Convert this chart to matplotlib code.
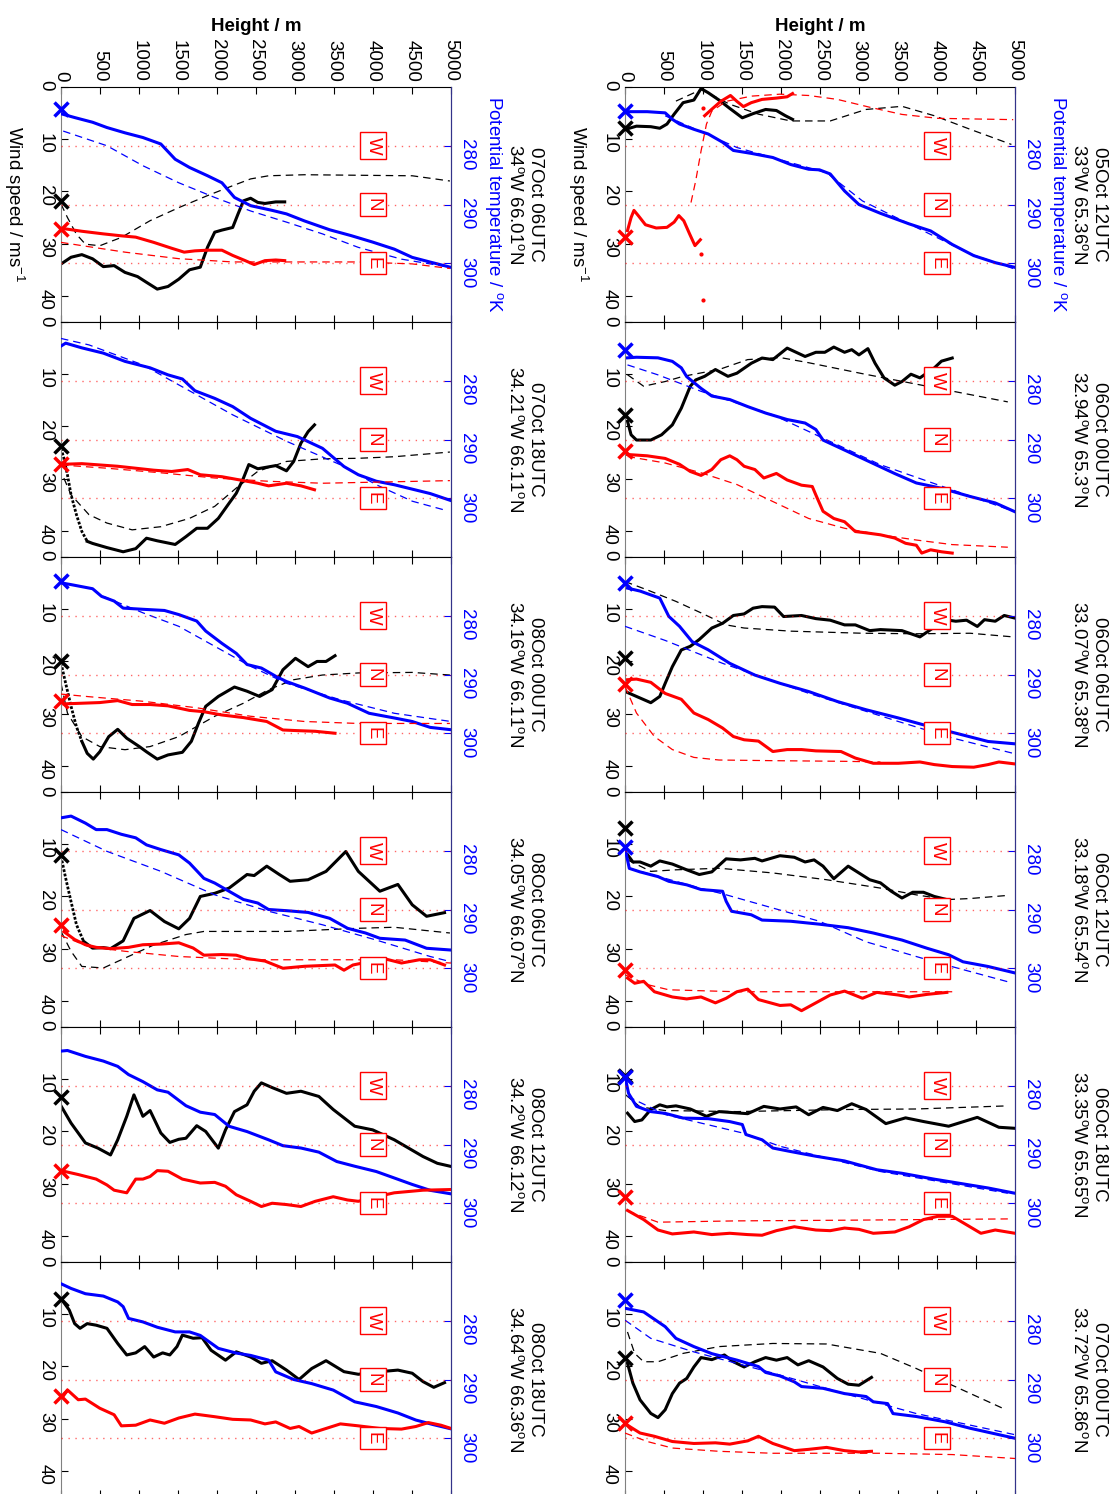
"""
Dropsonde-style profiles: wind speed, potential temperature and wind direction
vs height, 12 soundings, drawn rotated (height across, values down the page).
"""

import numpy as np
import matplotlib
matplotlib.use("Agg")
import matplotlib.pyplot as plt

plt.rcParams['font.family'] = ['Liberation Sans', 'DejaVu Sans']
plt.rcParams['mathtext.fontset'] = 'custom'
plt.rcParams['mathtext.rm'] = 'Liberation Sans'
plt.rcParams['mathtext.it'] = 'Liberation Sans:italic'
plt.rcParams['font.size'] = 13.5

nan = np.nan
DEG = r'$^\mathrm{o}$'

# ---------------------------------------------------------------- data
# surface values: wind speed [m/s], theta [K] (None = no mark), direction [deg]
# *_h = height [m]; ws = wind speed, th = theta, wd = direction (180..540)
# trailing m = model (dashed)

# 05Oct 12UTC
sfc_0512 = [7.9, 274.1, 410]
ws_0512_h = [9, 147, 331, 446, 538, 630, 745, 883, 975, 1067, 1205, 1343, 1504, 1642, 1803, 1941, 2056, 2148]
ws_0512 = [8.1, 7.5, 7.6, 7.9, 7.1, 5.2, 3.0, 2.5, 0.3, 1.1, 2.5, 4.1, 5.9, 5.1, 4.3, 4.5, 5.5, 6.2]
wsm_0512_h = [653, 975, 1343, 1711, 2125, 2631, 3091, 3551, 3965, 4425, 4954]
wsm_0512 = [2.7, 0.5, 3.3, 5.2, 6.5, 6.5, 4.3, 3.7, 5.5, 8.1, 11.0]
th_0512_h = [9, 285, 515, 607, 699, 883, 1067, 1251, 1389, 1619, 1895, 2125, 2355, 2493, 2631, 2815, 2999, 3275, 3643, 3919, 4195, 4471, 4747, 5000]
th_0512 = [274.2, 274.2, 274.4, 275.5, 276.3, 277.2, 278.0, 279.4, 280.8, 281.3, 282.0, 283.2, 284.0, 284.1, 284.8, 287.7, 290.0, 291.5, 293.3, 294.5, 296.8, 298.7, 299.9, 300.7]
thm_0512_h = [515, 1435, 2585, 3045, 3735, 4425, 5000]
thm_0512 = [274.9, 280.3, 284.6, 289.4, 293.9, 298.4, 301.0]
wd_0512_h = [32, 78, 115, 170, 262, 400, 538, 630, 690, 754, 828, 897, 966, nan, 1021, 1113, 1228, 1352, 1435, 1518, 1619, 1757, 1941, 2079, 2148]
wd_0512 = [400, 380, 369, 377, 391, 396, 395, 387, 377, 385, 405, 423, 414, nan, 224, 214, 202, 193, 202, 210, 204, 199, 197, 195, 190]
wdm_0512_h = [846, 906, 975, 1044, 1113, 1297, 1619, 1987, 2355, 2723, 3137, 3551, 4011, 4977]
wdm_0512 = [357, 324, 278, 237, 217, 202, 194, 191, 193, 199, 211, 222, 228, 230]
wddot_0512_h = [980, 998, 998]
wddot_0512 = [436, 506, 212]

# 06Oct 00UTC
sfc_0600 = [17.8, 274.7, 378]
ws_0600_h = [32, 78, 147, 331, 469, 607, 722, 837, 906, 1021, 1159, 1320, 1435, 1619, 1757, 1895, 2079, 2309, 2447, 2562, 2677, 2815, 2907, 2999, 3114, 3206, 3321, 3459, 3551, 3666, 3781, 3965, 4057, 4195]
ws_0600 = [19.0, 21.6, 22.6, 22.6, 21.6, 19.7, 16.5, 12.3, 11.1, 10.4, 9.1, 10.4, 9.8, 7.9, 6.9, 7.2, 5.0, 6.6, 5.8, 5.8, 4.8, 5.8, 5.3, 6.3, 5.1, 7.9, 10.7, 12.1, 11.4, 10.0, 10.7, 8.8, 7.5, 6.9]
wsm_0600_h = [32, 239, 515, 745, 1205, 1573, 1987, 2355, 3045, 3735, 4425, 4908]
wsm_0600 = [10.1, 12.3, 11.4, 10.4, 9.1, 7.2, 6.8, 7.8, 9.9, 11.9, 13.9, 15.3]
th_0600_h = [32, 147, 423, 607, 722, 791, 975, 1113, 1343, 1573, 1803, 2079, 2309, 2447, 2539, 2815, 3137, 3459, 3735, 4057, 4425, 4747, 5000]
th_0600 = [276.1, 276.0, 276.1, 276.7, 277.8, 279.3, 281.3, 282.6, 283.2, 284.4, 285.5, 286.6, 287.2, 288.3, 290.1, 291.8, 293.8, 295.8, 297.4, 298.3, 299.7, 300.8, 302.3]
thm_0600_h = [32, 423, 975, 1895, 2447, 3275, 5000]
thm_0600 = [277.3, 279.0, 281.8, 285.8, 289.2, 294.3, 302.3]
wd_0600_h = [32, 285, 515, 699, 837, 975, 1113, 1228, 1343, 1435, 1527, 1665, 1780, 1941, 2079, 2263, 2401, 2447, 2539, 2677, 2815, 2953, 3091, 3275, 3459, 3597, 3735, 3804, 3919, 4057, 4195]
wd_0600 = [383, 385, 389, 398, 409, 415, 406, 391, 385, 391, 401, 406, 419, 412, 422, 430, 432, 445, 470, 481, 486, 501, 503, 506, 511, 519, 522, 534, 529, 532, 534]
wdm_0600_h = [32, 515, 975, 1435, 1895, 2355, 2815, 3275, 3735, 4195, 4908]
wdm_0600 = [386, 396, 411, 429, 455, 481, 496, 506, 514, 521, 525]

# 06Oct 06UTC
sfc_0606 = [19.4, 274.4, 374]
ws_0606_h = [9, 147, 331, 446, 515, 607, 722, 837, 952, 1113, 1251, 1389, 1527, 1642, 1757, 1918, 2033, 2263, 2447, 2631, 2815, 2953, 3137, 3275, 3551, 3781, 3919, 4103, 4241, 4379, 4517, 4609, 4747, 4862, 5000]
ws_0606 = [25.8, 26.7, 27.9, 26.7, 24.2, 21.0, 17.8, 17.1, 15.8, 13.6, 12.7, 11.2, 10.9, 9.8, 9.5, 9.6, 11.4, 11.2, 11.8, 12.1, 13.0, 13.0, 14.1, 13.9, 14.1, 15.3, 13.9, 12.0, 12.3, 12.1, 13.3, 12.0, 12.3, 11.2, 11.7]
wsm_0606_h = [0, 285, 653, 975, 1297, 1527, 2125, 3045, 3735, 4425, 4977]
wsm_0606 = [4.7, 6.3, 8.5, 10.7, 13.0, 13.6, 14.2, 14.6, 14.7, 14.6, 15.3]
th_0606_h = [32, 193, 446, 561, 699, 860, 1067, 1343, 1665, 1987, 2355, 2723, 3091, 3505, 3919, 4333, 4655, 5000]
th_0606 = [275.3, 275.8, 277.0, 280.1, 281.8, 284.4, 285.8, 288.1, 290.1, 291.5, 292.9, 294.6, 296.0, 297.4, 298.9, 300.3, 301.4, 301.8]
thm_0606_h = [0, 515, 1251, 2355, 3505, 4195, 5000]
thm_0606 = [281.8, 284.2, 288.1, 293.2, 298.0, 300.8, 303.5]
wd_0606_h = [32, 147, 331, 515, 722, 883, 1067, 1251, 1389, 1527, 1711, 1895, 2079, 2263, 2447, 2769, 2953, 3183, 3505, 3781, 3965, 4195, 4471, 4655, 4793, 5000]
wd_0606 = [368, 367, 372, 389, 398, 419, 429, 442, 455, 460, 462, 478, 475, 475, 477, 478, 488, 496, 496, 494, 498, 501, 502, 498, 494, 497]
wdm_0606_h = [0, 147, 377, 607, 883, 1205, 1895, 2815, 3275]
wdm_0606 = [378, 419, 455, 475, 487, 491, 492, 493, 494]

# 06Oct 12UTC
sfc_0612 = [6.8, 279.4, 453]
ws_0612_h = [32, 101, 193, 331, 446, 607, 791, 952, 1113, 1297, 1481, 1665, 1757, 1987, 2171, 2309, 2424, 2539, 2677, 2861, 2999, 3137, 3275, 3413, 3551, 3689, 3827, 3965, 4126]
ws_0612 = [12.0, 13.4, 13.4, 14.2, 13.2, 13.8, 14.9, 15.8, 15.3, 12.8, 13.0, 12.7, 13.2, 12.2, 12.5, 13.4, 13.0, 14.2, 16.6, 14.2, 15.5, 16.8, 17.4, 19.0, 20.3, 19.2, 19.2, 20.0, 20.6]
wsm_0612_h = [32, 331, 653, 1205, 1895, 2585, 3275, 3735, 4126, 4425, 4908]
wsm_0612 = [13.0, 15.2, 14.9, 14.6, 15.5, 16.8, 18.4, 19.7, 20.6, 20.4, 19.8]
th_0612_h = [9, 55, 193, 423, 561, 791, 975, 1251, 1297, 1366, 1619, 1757, 2125, 2493, 2861, 3183, 3551, 3873, 4149, 4333, 4655, 5000]
th_0612 = [280.1, 283.0, 283.6, 284.4, 285.2, 285.8, 286.6, 286.9, 288.6, 290.3, 290.9, 291.8, 292.0, 292.5, 293.1, 294.0, 295.2, 296.6, 297.7, 298.9, 299.7, 300.8]
thm_0612_h = [55, 975, 1297, 2493, 3091, 3965, 4908]
thm_0612 = [283.0, 286.4, 287.5, 292.0, 295.5, 298.9, 302.3]
wd_0612_h = [32, 124, 239, 377, 607, 791, 975, 1159, 1297, 1435, 1573, 1711, 1987, 2125, 2263, 2447, 2631, 2815, 3045, 3229, 3505, 3643, 3873, 4126]
wd_0612 = [465, 473, 470, 486, 494, 497, 494, 503, 496, 486, 482, 498, 507, 506, 515, 503, 491, 485, 496, 487, 491, 494, 490, 487]
wdm_0612_h = [0, 285, 561, 1435, 2815, 4195]
wdm_0612 = [460, 475, 483, 486, 486, 486]

# 06Oct 18UTC
sfc_0618 = [9.3, 278.5, 441]
ws_0618_h = [32, 124, 216, 331, 446, 538, 653, 837, 1044, 1205, 1389, 1573, 1780, 1987, 2194, 2355, 2539, 2723, 2907, 3091, 3344, 3597, 3827, 4149, 4517, 4793, 5000]
ws_0618 = [16.5, 18.1, 17.8, 15.8, 14.9, 15.3, 15.1, 15.7, 17.1, 16.2, 16.4, 16.6, 15.2, 15.7, 15.3, 16.8, 15.4, 16.0, 14.7, 15.8, 18.5, 17.4, 18.1, 19.0, 17.3, 19.2, 19.4]
wsm_0618_h = [9, 193, 515, 1435, 2815, 3735, 4908]
wsm_0618 = [13.0, 15.3, 16.0, 16.2, 15.8, 15.7, 15.1]
th_0618_h = [9, 46, 147, 331, 515, 745, 1067, 1343, 1504, 1550, 1757, 1895, 2125, 2447, 2815, 3229, 3551, 3965, 4333, 4655, 5000]
th_0618 = [279.0, 281.3, 283.5, 284.4, 284.7, 285.5, 285.6, 286.1, 286.6, 288.3, 289.2, 290.6, 291.2, 292.0, 292.8, 294.3, 294.9, 295.9, 296.7, 297.4, 298.3]
thm_0618_h = [32, 515, 1527, 1987, 3275, 4908]
thm_0618 = [281.8, 284.9, 288.1, 290.3, 294.6, 298.3]
wd_0618_h = [32, 239, 423, 607, 883, 1113, 1343, 1573, 1757, 1941, 2171, 2447, 2631, 2815, 2999, 3183, 3459, 3643, 3827, 4011, 4195, 4379, 4563, 4747, 5000]
wd_0618 = [461, 475, 491, 497, 494, 498, 496, 498, 499, 492, 486, 491, 492, 488, 490, 496, 494, 486, 475, 470, 470, 483, 496, 491, 496]
wdm_0618_h = [32, 423, 1435, 2815, 4908]
wdm_0618 = [462, 479, 477, 476, 474]

# 07Oct 00UTC
sfc_0700 = [18.3, 276.5, 426]
ws_0700_h = [32, 101, 193, 331, 423, 515, 607, 699, 791, 883, 975, 1113, 1274, 1389, 1527, 1665, 1803, 1941, 2079, 2217, 2355, 2539, 2723, 2861, 2999, 3160]
ws_0700 = [19.4, 23.2, 26.4, 29.0, 29.8, 28.3, 25.2, 23.2, 22.3, 20.1, 18.3, 18.7, 17.8, 19.1, 20.1, 19.1, 18.3, 18.8, 18.3, 19.7, 18.9, 20.1, 22.3, 23.4, 23.6, 22.1]
wsm_0700_h = [32, 124, 239, 423, 745, 1205, 1895, 2585, 3275, 3735, 4195, 4885]
wsm_0700 = [13.4, 17.5, 19.1, 19.1, 17.5, 16.2, 15.6, 15.7, 17.5, 20.4, 23.6, 28.3]
th_0700_h = [9, 239, 515, 653, 883, 1113, 1435, 1711, 1803, 1987, 2171, 2263, 2539, 2815, 3091, 3183, 3367, 3436, 3735, 4103, 4425, 5000]
th_0700 = [277.9, 278.5, 281.0, 283.0, 284.4, 285.6, 286.7, 287.8, 288.8, 289.4, 290.4, 291.2, 291.5, 292.4, 292.9, 293.8, 294.1, 295.8, 296.3, 297.2, 298.3, 300.0]
thm_0700_h = [0, 331, 883, 1895, 2815, 3735, 5000]
thm_0700 = [279.9, 283.0, 285.3, 288.9, 292.4, 295.8, 299.4]
wd_0700_h = [32, 193, 377, 607, 883, 1159, 1343, 1573, 1711, 1895, 2171, 2355, 2585, 2815, 2999, 3160]
wd_0700 = [430, 442, 447, 455, 458, 457, 459, 454, 447, 458, 469, 467, 464, 469, 471, 470]
wdm_0700_h = [0, 285, 607, 1205, 1895, 3275, 4195, 5000]
wdm_0700 = [442, 455, 465, 470, 473, 473, 475, 481]

# 07Oct 06UTC
sfc_0706 = [21.8, 273.8, 398]
ws_0706_h = [0, 129, 267, 405, 543, 681, 820, 981, 1096, 1234, 1372, 1510, 1648, 1786, 1878, 1971, 2063, 2201, 2270, 2339, 2431, 2523, 2615, 2753, 2868]
ws_0706 = [33.9, 32.6, 32.1, 32.9, 34.4, 34.2, 35.5, 36.3, 37.4, 38.7, 38.2, 36.8, 35.0, 34.5, 30.7, 27.8, 27.4, 26.9, 24.3, 21.8, 21.3, 22.1, 22.3, 22.0, 22.0]
wsm_0706_h = [0, 83, 198, 313, 497, 774, 1142, 1510, 1878, 2201, 2431, 2661, 3122, 3812, 4503, 4986]
wsm_0706 = [22.4, 25.0, 28.2, 30.1, 30.4, 28.8, 25.6, 23.1, 20.8, 18.9, 17.6, 17.0, 16.8, 16.9, 17.0, 18.0]
th_0706_h = [14, 175, 405, 589, 820, 1050, 1280, 1464, 1648, 1878, 2063, 2224, 2431, 2707, 2891, 3122, 3444, 3720, 3996, 4273, 4503, 4733, 5000]
th_0706 = [274.6, 275.2, 276.0, 276.9, 277.8, 278.6, 279.7, 282.3, 283.7, 285.1, 286.3, 288.8, 290.2, 291.0, 291.6, 292.8, 294.3, 295.3, 296.4, 297.6, 299.0, 299.8, 300.7]
thm_0706_h = [28, 589, 1050, 1510, 1971, 2431, 2891, 3352, 3812, 4365, 5000]
thm_0706 = [277.5, 280.0, 283.4, 286.3, 288.8, 291.1, 293.0, 295.0, 297.3, 299.3, 300.7]
wd_0706_h = [37, 267, 543, 774, 958, 1188, 1418, 1579, 1717, 1878, 2063, 2201, 2362, 2477, 2615, 2753, 2868]
wd_0706 = [397, 401, 405, 408, 410, 418, 427, 433, 431, 430, 430, 438, 446, 452, 446, 445, 446]
wdm_0706_h = [0, 267, 820, 1510, 2201, 2891, 3812, 4503, 4986]
wdm_0706 = [418, 423, 433, 443, 448, 448, 448, 451, 458]

# 07Oct 18UTC  (first 7 wind points are sparse -> dotted)
sfc_0718 = [23.8, None, 398]
ws_0718_h = [0, 37, 83, 129, 198, 267, 336, 405, 589, 797, 958, 1096, 1234, 1464, 1602, 1740, 1878, 2017, 2155, 2247, 2339, 2408, 2523, 2753, 2891, 2983, 3076, 3168, 3250]
ws_0718 = [24.2, 26.1, 29.3, 33.1, 36.9, 40.1, 42.0, 42.4, 43.2, 44.0, 43.4, 41.4, 41.9, 42.6, 41.1, 39.5, 39.5, 37.6, 34.7, 32.8, 29.9, 27.3, 28.1, 27.5, 28.5, 26.7, 23.2, 21.0, 19.7]
wsm_0718_h = [37, 129, 359, 589, 912, 1280, 1648, 1971, 2247, 2523, 2891, 3352, 3812, 4273, 4986]
wsm_0718 = [29.9, 33.1, 36.9, 38.5, 39.8, 39.2, 37.6, 35.3, 31.8, 28.6, 26.7, 26.2, 26.1, 25.8, 24.9]
th_0718_h = [0, 60, 267, 543, 820, 1142, 1372, 1556, 1717, 1971, 2201, 2431, 2753, 3030, 3352, 3628, 3812, 4042, 4273, 4549, 4733, 5000]
th_0718 = [274.1, 273.6, 274.4, 275.3, 276.7, 277.8, 279.0, 279.7, 281.7, 283.0, 284.4, 286.4, 288.6, 289.5, 291.5, 294.6, 296.0, 297.1, 297.7, 298.6, 299.2, 300.4]
thm_0718_h = [0, 359, 1050, 1510, 2201, 2891, 3582, 4042, 4503, 4917]
thm_0718 = [272.8, 273.9, 277.3, 280.7, 285.8, 290.3, 294.3, 297.7, 300.5, 302.0]
wd_0718_h = [14, 267, 497, 727, 958, 1188, 1418, 1625, 1786, 2063, 2293, 2523, 2661, 2891, 3076, 3250]
wd_0718 = [398, 397, 399, 401, 404, 407, 409, 406, 414, 417, 422, 427, 431, 427, 431, 437]
wdm_0718_h = [0, 589, 1280, 1971, 2661, 3352, 4986]
wdm_0718 = [399, 404, 411, 419, 424, 427, 423]

# 08Oct 00UTC
sfc_0800 = [20.0, 274.1, 401]
ws_0800_h = [0, 60, 129, 198, 267, 336, 414, 497, 612, 727, 843, 1004, 1096, 1234, 1372, 1556, 1671, 1763, 1855, 2017, 2224, 2385, 2546, 2707, 2845, 3006, 3168, 3283, 3398, 3513]
ws_0800 = [20.3, 24.2, 28.6, 32.5, 35.3, 37.6, 38.7, 37.3, 34.4, 33.0, 34.7, 36.3, 37.3, 38.7, 37.9, 37.4, 35.3, 31.8, 28.6, 26.7, 24.9, 25.7, 26.7, 25.4, 21.6, 19.4, 21.0, 20.0, 20.0, 18.9]
wsm_0800_h = [0, 83, 267, 497, 820, 1142, 1510, 1971, 2339, 2661, 2983, 3352, 3812, 4503, 4986]
wsm_0800 = [24.2, 29.9, 34.4, 36.3, 36.9, 36.3, 34.4, 30.5, 28.0, 25.4, 23.5, 22.6, 22.2, 22.1, 22.6]
th_0800_h = [0, 129, 405, 520, 681, 797, 1050, 1326, 1510, 1740, 1855, 2063, 2247, 2385, 2569, 2753, 2891, 3122, 3444, 3674, 3950, 4273, 4503, 4733, 5000]
th_0800 = [274.4, 274.7, 275.4, 276.7, 277.5, 278.7, 278.9, 279.1, 279.8, 280.9, 282.6, 284.7, 286.4, 288.3, 288.9, 290.3, 291.2, 292.3, 294.0, 294.9, 296.6, 297.4, 298.0, 299.0, 299.4]
thm_0800_h = [543, 1050, 1510, 1971, 2431, 2891, 3582, 4273, 5000]
thm_0800 = [276.7, 279.5, 281.8, 285.2, 288.6, 291.5, 294.3, 296.6, 298.0]
wd_0800_h = [37, 267, 497, 727, 912, 1142, 1372, 1648, 1832, 2063, 2339, 2638, 2845, 3030, 3260, 3513]
wd_0800 = [405, 404, 403, 400, 406, 406, 408, 415, 417, 422, 426, 432, 445, 446, 447, 450]
wdm_0800_h = [0, 359, 1050, 1740, 2431, 3122, 3812, 4503, 4986]
wdm_0800 = [390, 394, 401, 411, 424, 432, 435, 435, 435]

# 08Oct 06UTC
sfc_0806 = [12.1, None, 383]
ws_0806_h = [0, 60, 129, 198, 290, 405, 543, 635, 797, 935, 1142, 1326, 1510, 1648, 1786, 1971, 2155, 2385, 2477, 2638, 2799, 2937, 3168, 3398, 3651, 3812, 4088, 4319, 4503, 4687, 4917]
ws_0806 = [12.3, 16.5, 21.0, 25.4, 28.6, 29.9, 29.8, 30.0, 28.5, 24.2, 22.7, 24.8, 26.2, 24.2, 20.0, 19.4, 18.4, 15.8, 16.0, 14.2, 15.8, 17.1, 16.8, 15.2, 11.4, 15.2, 19.0, 17.7, 21.6, 23.8, 23.1]
wsm_0806_h = [0, 129, 267, 543, 820, 1188, 1602, 1832, 2891, 3812, 4273, 4986]
wsm_0806 = [26.7, 30.5, 33.4, 33.7, 31.8, 29.3, 27.3, 26.7, 26.7, 26.1, 25.9, 27.0]
th_0806_h = [0, 129, 313, 451, 589, 774, 958, 1096, 1280, 1510, 1648, 1832, 1971, 2155, 2339, 2523, 2661, 2891, 3168, 3444, 3674, 3904, 4088, 4411, 4687, 5000]
th_0806 = [274.4, 274.1, 275.3, 276.4, 276.4, 277.2, 277.8, 279.0, 279.8, 280.7, 282.1, 284.7, 285.5, 286.9, 288.3, 288.9, 290.0, 290.2, 290.5, 291.5, 293.2, 294.0, 294.9, 295.2, 296.6, 296.9]
thm_0806_h = [0, 589, 1280, 1971, 2661, 3352, 4042, 4733, 5000]
thm_0806 = [276.4, 280.1, 283.5, 287.5, 290.3, 292.6, 295.2, 298.0, 298.9]
wd_0806_h = [37, 175, 313, 451, 635, 866, 1050, 1280, 1510, 1694, 1832, 2063, 2247, 2385, 2615, 2845, 3122, 3513, 3628, 3743, 3950, 4134, 4365, 4595, 4733, 4917]
wd_0806 = [394, 406, 414, 418, 420, 418, 414, 413, 411, 419, 430, 429, 430, 435, 439, 450, 447, 445, 453, 445, 440, 435, 442, 437, 437, 445]
wdm_0806_h = [0, 359, 820, 1510, 2431, 3352, 4273, 5000]
wdm_0806 = [400, 417, 424, 432, 437, 437, 437, 442]

# 08Oct 12UTC (no model profile)
sfc_0812 = [13.4, None, 401]
ws_0812_h = [0, 129, 313, 474, 635, 727, 843, 935, 1050, 1142, 1280, 1395, 1510, 1602, 1740, 1855, 2017, 2109, 2224, 2385, 2477, 2569, 2707, 2891, 3076, 3306, 3490, 3766, 3996, 4273, 4641, 4825, 5000]
ws_0812 = [15.1, 18.4, 22.2, 23.2, 24.5, 21.6, 17.1, 13.0, 17.1, 16.0, 20.3, 22.1, 21.5, 21.3, 18.9, 20.0, 23.2, 19.7, 16.2, 14.9, 12.3, 10.7, 11.6, 12.7, 12.3, 13.3, 15.8, 19.0, 19.7, 21.6, 24.8, 26.1, 26.7]
th_0812_h = [0, 83, 313, 543, 727, 866, 1050, 1234, 1372, 1602, 1786, 1971, 2155, 2385, 2661, 2845, 3076, 3306, 3536, 3766, 4042, 4273, 4503, 4733, 5000]
th_0812 = [274.1, 274.0, 275.0, 275.8, 276.7, 278.1, 279.3, 280.7, 281.1, 283.4, 284.5, 284.9, 286.9, 287.8, 289.2, 290.2, 290.6, 291.3, 292.9, 293.7, 294.6, 295.7, 296.8, 297.8, 298.4]
wd_0812_h = [37, 221, 451, 589, 681, 843, 958, 1050, 1142, 1234, 1372, 1556, 1786, 1971, 2109, 2247, 2431, 2569, 2707, 2891, 3076, 3260, 3490, 3674, 3812, 4042, 4273, 4641, 5000]
wd_0812 = [401, 406, 413, 422, 430, 434, 413, 413, 409, 400, 401, 413, 419, 418, 424, 437, 447, 455, 450, 452, 455, 447, 440, 445, 447, 440, 434, 430, 429]

# 08Oct 18UTC (no model profile)
sfc_0818 = [7.0, None, 386]
ws_0818_h = [14, 106, 175, 244, 336, 451, 589, 727, 843, 958, 1073, 1188, 1303, 1395, 1487, 1556, 1694, 1809, 1924, 2109, 2247, 2431, 2569, 2707, 2891, 3052, 3214, 3398, 3628, 3812, 4088, 4319, 4503, 4641, 4779, 4917]
ws_0818 = [7.3, 9.2, 11.8, 12.7, 11.8, 12.1, 12.7, 15.6, 17.8, 17.4, 16.2, 18.2, 17.4, 17.8, 16.2, 14.0, 14.6, 14.5, 16.9, 18.8, 17.2, 18.2, 19.4, 18.9, 20.7, 22.5, 20.4, 18.9, 21.0, 21.5, 21.0, 20.7, 21.3, 22.9, 24.0, 23.1]
th_0818_h = [0, 129, 313, 543, 727, 797, 866, 1050, 1234, 1464, 1648, 1786, 2017, 2247, 2431, 2661, 2753, 2983, 3214, 3490, 3766, 4042, 4319, 4549, 4779, 5000]
th_0818 = [273.7, 274.5, 275.4, 275.8, 276.8, 277.6, 279.6, 280.2, 281.1, 281.9, 281.9, 282.5, 284.7, 285.5, 285.9, 286.7, 288.7, 290.0, 290.7, 291.8, 293.8, 294.6, 295.7, 296.9, 297.7, 298.4]
wd_0818_h = [37, 83, 221, 313, 497, 681, 774, 958, 1142, 1326, 1510, 1717, 1971, 2201, 2431, 2615, 2753, 2937, 3052, 3214, 3398, 3582, 3812, 4088, 4365, 4549, 4710, 4871, 5000]
wd_0818 = [384, 376, 391, 390, 404, 414, 431, 430, 422, 427, 419, 413, 417, 421, 422, 428, 425, 435, 432, 442, 435, 428, 431, 435, 436, 432, 426, 430, 435]

titles = ['05Oct 12UTC\n33' + DEG + 'W 65.36' + DEG + 'N',
          '06Oct 00UTC\n32.94' + DEG + 'W 65.3' + DEG + 'N',
          '06Oct 06UTC\n33.07' + DEG + 'W 65.38' + DEG + 'N',
          '06Oct 12UTC\n33.18' + DEG + 'W 65.54' + DEG + 'N',
          '06Oct 18UTC\n33.35' + DEG + 'W 65.65' + DEG + 'N',
          '07Oct 00UTC\n33.72' + DEG + 'W 65.86' + DEG + 'N',
          '07Oct 06UTC\n34' + DEG + 'W 66.01' + DEG + 'N',
          '07Oct 18UTC\n34.21' + DEG + 'W 66.11' + DEG + 'N',
          '08Oct 00UTC\n34.16' + DEG + 'W 66.11' + DEG + 'N',
          '08Oct 06UTC\n34.05' + DEG + 'W 66.07' + DEG + 'N',
          '08Oct 12UTC\n34.2' + DEG + 'W 66.12' + DEG + 'N',
          '08Oct 18UTC\n34.64' + DEG + 'W 66.36' + DEG + 'N']


def P(sfc, ws, th, wd, wsm=None, thm=None, wdm=None, lead=0, dots=None):
    return dict(sfc=sfc, ws=ws, th=th, wd=wd, wsm=wsm, thm=thm, wdm=wdm,
                lead=lead, dots=dots)


panels = [
    P(sfc_0512, (ws_0512_h, ws_0512), (th_0512_h, th_0512), (wd_0512_h, wd_0512),
      (wsm_0512_h, wsm_0512), (thm_0512_h, thm_0512), (wdm_0512_h, wdm_0512),
      dots=(wddot_0512_h, wddot_0512)),
    P(sfc_0600, (ws_0600_h, ws_0600), (th_0600_h, th_0600), (wd_0600_h, wd_0600),
      (wsm_0600_h, wsm_0600), (thm_0600_h, thm_0600), (wdm_0600_h, wdm_0600)),
    P(sfc_0606, (ws_0606_h, ws_0606), (th_0606_h, th_0606), (wd_0606_h, wd_0606),
      (wsm_0606_h, wsm_0606), (thm_0606_h, thm_0606), (wdm_0606_h, wdm_0606)),
    P(sfc_0612, (ws_0612_h, ws_0612), (th_0612_h, th_0612), (wd_0612_h, wd_0612),
      (wsm_0612_h, wsm_0612), (thm_0612_h, thm_0612), (wdm_0612_h, wdm_0612)),
    P(sfc_0618, (ws_0618_h, ws_0618), (th_0618_h, th_0618), (wd_0618_h, wd_0618),
      (wsm_0618_h, wsm_0618), (thm_0618_h, thm_0618), (wdm_0618_h, wdm_0618)),
    P(sfc_0700, (ws_0700_h, ws_0700), (th_0700_h, th_0700), (wd_0700_h, wd_0700),
      (wsm_0700_h, wsm_0700), (thm_0700_h, thm_0700), (wdm_0700_h, wdm_0700)),
    P(sfc_0706, (ws_0706_h, ws_0706), (th_0706_h, th_0706), (wd_0706_h, wd_0706),
      (wsm_0706_h, wsm_0706), (thm_0706_h, thm_0706), (wdm_0706_h, wdm_0706)),
    P(sfc_0718, (ws_0718_h, ws_0718), (th_0718_h, th_0718), (wd_0718_h, wd_0718),
      (wsm_0718_h, wsm_0718), (thm_0718_h, thm_0718), (wdm_0718_h, wdm_0718), lead=6),
    P(sfc_0800, (ws_0800_h, ws_0800), (th_0800_h, th_0800), (wd_0800_h, wd_0800),
      (wsm_0800_h, wsm_0800), (thm_0800_h, thm_0800), (wdm_0800_h, wdm_0800), lead=4),
    P(sfc_0806, (ws_0806_h, ws_0806), (th_0806_h, th_0806), (wd_0806_h, wd_0806),
      (wsm_0806_h, wsm_0806), (thm_0806_h, thm_0806), (wdm_0806_h, wdm_0806), lead=4),
    P(sfc_0812, (ws_0812_h, ws_0812), (th_0812_h, th_0812), (wd_0812_h, wd_0812)),
    P(sfc_0818, (ws_0818_h, ws_0818), (th_0818_h, th_0818), (wd_0818_h, wd_0818)),
]

# ---------------------------------------------------------------- layout
W, H = 1118.0, 1494.0
col_left = [625, 61]          # first six soundings in the right column
ax_w, ax_h, top0 = 390, 235, 87
DASH = (0, (6, 4))
SPINE_R = '#33338a'

fig = plt.figure(figsize=(W / 100, H / 100), dpi=100)

for i, p in enumerate(panels):
    col, row = divmod(i, 6)
    y_top = top0 + row * ax_h
    ax = fig.add_axes([col_left[col] / W, 1 - (y_top + ax_h) / H, ax_w / W, ax_h / H])
    axt = ax.twinx()
    axd = ax.twinx()

    ax.set_xlim(0, 5000)
    ax.set_ylim(45, 0)
    axt.set_ylim(310, 270)
    axd.set_ylim(540, 180)
    axd.axis('off')

    # reference lines for W / N / E
    for d, lab in [(270, 'W'), (360, 'N'), (450, 'E')]:
        axd.axhline(d, color='red', ls=(0, (1, 4)), lw=1, alpha=0.6)
        axd.text(4000, d, lab, rotation=-90, color='red', ha='center', va='center',
                 fontsize=13.5, zorder=10,
                 bbox=dict(boxstyle='square,pad=0.25', fc='white', ec='red', lw=1))

    # wind speed
    h, v = p['ws']
    n = p['lead']
    if n:
        ax.plot(h[:n + 1], v[:n + 1], color='k', lw=2, ls=(0, (1, 0.6)))
    ax.plot(h[n:], v[n:], color='k', lw=2.2)
    if p['wsm']:
        ax.plot(*p['wsm'], color='k', lw=0.9, ls=DASH)
    ax.plot(0, p['sfc'][0], 'x', color='k', ms=10, mew=2.5, clip_on=False, zorder=5)

    # potential temperature
    axt.plot(*p['th'], color='blue', lw=2.2)
    if p['thm']:
        axt.plot(*p['thm'], color='blue', lw=0.9, ls=DASH)
    if p['sfc'][1] is not None:
        axt.plot(0, p['sfc'][1], 'x', color='blue', ms=10, mew=2.5, clip_on=False, zorder=5)

    # wind direction
    axd.plot(*p['wd'], color='red', lw=2.2)
    if p['wdm']:
        axd.plot(*p['wdm'], color='red', lw=0.9, ls=DASH)
    if p['dots']:
        axd.plot(*p['dots'], '.', color='red', ms=4)
    axd.plot(0, p['sfc'][2], 'x', color='red', ms=10, mew=2.5, clip_on=False, zorder=5)

    # axes cosmetics
    ax.set_xticks(range(0, 5001, 500))
    ax.set_yticks([0, 10, 20, 30, 40])
    ax.tick_params(axis='x', direction='in', length=5, top=True, bottom=True,
                   labeltop=(row == 0), labelbottom=False, labelrotation=-90,
                   labelsize=13.5, pad=4)
    ax.tick_params(axis='y', direction='in', length=5, left=True, right=False,
                   labelrotation=-90, labelsize=13.5, pad=5)
    ax.spines['left'].set_color('#808080')
    ax.spines['right'].set_color(SPINE_R)

    axt.set_yticks([280, 290, 300])
    axt.tick_params(axis='y', direction='in', length=5, colors='blue',
                    labelrotation=-90, labelsize=13.5, pad=5)
    for s in ['left', 'top', 'bottom']:
        axt.spines[s].set_visible(False)
    axt.spines['right'].set_color(SPINE_R)

    if row == 0:
        ax.xaxis.set_label_position('top')
        ax.set_xlabel('Height / m', fontweight='bold', labelpad=6)
        ax.set_ylabel('Wind speed / ms$^{-1}$', rotation=-90, va='top', labelpad=8)
        axt.set_ylabel('Potential temperature / ' + DEG + 'K', color='blue',
                       rotation=-90, va='bottom', labelpad=6)

    ax.text(1.19, 0.5, titles[i], transform=ax.transAxes, rotation=-90,
            ha='center', va='center', multialignment='center', fontsize=13.5)

fig.savefig('out.png', dpi=100)
